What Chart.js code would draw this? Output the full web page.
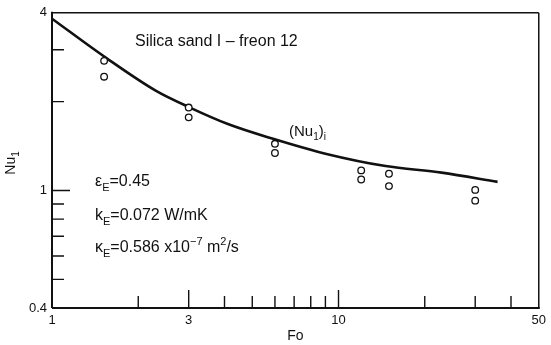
<!DOCTYPE html>
<html>
<head>
<meta charset="utf-8">
<script src="https://cdn.jsdelivr.net/npm/chart.js@4.4.0/dist/chart.umd.min.js"></script>
<style>
  html, body { margin: 0; padding: 0; background: #fff; }
</style>
</head>
<body>
<canvas id="chart" width="551" height="345"></canvas>
<script>
// smooth (Nu1)i curve
var curveFo = [1, 1.54, 2.3, 3.03, 4.11, 5.87, 9.08, 14.6, 22.9, 35.9];
var curveNu = [3.82, 2.82, 2.18, 1.91, 1.68, 1.50, 1.33, 1.21, 1.15, 1.07];

// measured points (open circles)
var pointFo = [1.52, 1.52, 3.0, 3.0, 6.0, 6.0, 12, 12, 15, 15, 30, 30];
var pointNu = [2.75, 2.43, 1.91, 1.77, 1.44, 1.34, 1.17, 1.09, 1.14, 1.035, 1.005, 0.924];

// tick labels and tick marks
var xLabelTicks = [1, 3, 10, 50];
var yLabelTicks = [0.4, 1, 4];
var xShortTicks = [2, 4, 5, 6, 7, 8, 9, 20, 30, 40];
var xLongTicks = [3, 10];
var yShortTicks = [0.5, 0.6, 0.7, 0.8, 0.9, 2, 3];
var yLongTicks = [1];

var FONT = "'Liberation Sans', Arial, sans-serif";
var INK = '#111';

var curveData = [];
for (var i = 0; i < curveFo.length; i++) {
  curveData.push({ x: curveFo[i], y: curveNu[i] });
}
var pointData = [];
for (var i = 0; i < pointFo.length; i++) {
  pointData.push({ x: pointFo[i], y: pointNu[i] });
}

// draw text made of normal / sub / sup pieces, vertically centred on y
function drawRuns(ctx, runs, x, y, size, measureOnly) {
  var cx = x;
  for (var i = 0; i < runs.length; i++) {
    var t = runs[i][0], kind = runs[i][1];
    var s = kind == 'n' ? size : Math.round(size * 0.68);
    var dy = kind == 'sub' ? size * 0.38 : (kind == 'sup' ? -size * 0.4 : 0);
    ctx.font = s + 'px ' + FONT;
    if (!measureOnly) ctx.fillText(t, cx, y + dy);
    cx += ctx.measureText(t).width;
  }
  return cx - x;
}

function edge(ctx, width, x1, y1, x2, y2) {
  ctx.lineWidth = width;
  ctx.beginPath();
  ctx.moveTo(x1, y1);
  ctx.lineTo(x2, y2);
  ctx.stroke();
}

var decorPlugin = {
  id: 'decor',
  afterDraw: function (chart) {
    var ctx = chart.ctx;
    var a = chart.chartArea;
    var xs = chart.scales.x, ys = chart.scales.y;
    ctx.save();
    ctx.strokeStyle = INK;

    // frame: thin top/right, heavier left/bottom
    edge(ctx, 1.5, a.left, a.top, a.right, a.top);
    edge(ctx, 1.5, a.right, a.top, a.right, a.bottom);
    edge(ctx, 2, a.left, a.bottom, a.right + 1, a.bottom);
    edge(ctx, 2, a.left, a.top - 1, a.left, a.bottom);

    // inward tick marks
    ctx.lineWidth = 1.4;
    ctx.beginPath();
    xShortTicks.forEach(function (v) {
      var px = xs.getPixelForValue(v);
      ctx.moveTo(px, a.bottom); ctx.lineTo(px, a.bottom - 12);
    });
    xLongTicks.forEach(function (v) {
      var px = xs.getPixelForValue(v);
      ctx.moveTo(px, a.bottom); ctx.lineTo(px, a.bottom - 18);
    });
    yShortTicks.forEach(function (v) {
      var py = ys.getPixelForValue(v);
      ctx.moveTo(a.left, py); ctx.lineTo(a.left + 12, py);
    });
    yLongTicks.forEach(function (v) {
      var py = ys.getPixelForValue(v);
      ctx.moveTo(a.left, py); ctx.lineTo(a.left + 18, py);
    });
    ctx.stroke();

    // annotations
    ctx.fillStyle = INK;
    ctx.textBaseline = 'middle';
    ctx.textAlign = 'left';
    drawRuns(ctx, [['Silica sand I \u2013 freon 12', 'n']], 135, 42, 16);
    drawRuns(ctx, [['(Nu', 'n'], ['1', 'sub'], [')', 'n'], ['i', 'sub']], 289, 132, 15);
    drawRuns(ctx, [['\u03b5', 'n'], ['E', 'sub'], ['=0.45', 'n']], 95, 182, 16);
    drawRuns(ctx, [['k', 'n'], ['E', 'sub'], ['=0.072 W/mK', 'n']], 95, 216, 16);
    drawRuns(ctx, [['\u03ba', 'n'], ['E', 'sub'], ['=0.586 x10', 'n'], ['\u22127', 'sup'],
                   [' m', 'n'], ['2', 'sup'], ['/s', 'n']], 95, 248, 16);

    // y axis title, rotated
    var yRuns = [['Nu', 'n'], ['1', 'sub']];
    var w = drawRuns(ctx, yRuns, 0, 0, 14, true);
    ctx.translate(11, 163);
    ctx.rotate(-Math.PI / 2);
    drawRuns(ctx, yRuns, -w / 2, 0, 14);
    ctx.restore();
  }
};

new Chart(document.getElementById('chart'), {
  type: 'scatter',
  data: {
    datasets: [
      {
        label: 'points',
        data: pointData,
        showLine: false,
        pointStyle: 'circle',
        pointRadius: 3.3,
        pointBorderWidth: 1.3,
        pointBorderColor: INK,
        pointBackgroundColor: '#fff',
        order: 1
      },
      {
        label: '(Nu1)i',
        data: curveData,
        showLine: true,
        borderColor: INK,
        borderWidth: 2.6,
        pointRadius: 0,
        cubicInterpolationMode: 'monotone',
        order: 2
      }
    ]
  },
  options: {
    responsive: false,
    animation: false,
    layout: { padding: { top: 12, right: 6, left: 0, bottom: 0 } },
    plugins: {
      legend: { display: false },
      tooltip: { enabled: false }
    },
    scales: {
      x: {
        type: 'logarithmic',
        min: 1,
        max: 50,
        afterBuildTicks: function (s) {
          s.ticks = xLabelTicks.map(function (v) { return { value: v }; });
        },
        afterFit: function (s) { s.height = 37; },
        grid: { display: false, drawTicks: false },
        border: { display: false },
        ticks: {
          autoSkip: false,
          maxRotation: 0,
          padding: 5,
          color: INK,
          font: { family: FONT, size: 13 },
          callback: function (v) { return String(v); }
        },
        title: {
          display: true,
          text: 'Fo',
          color: INK,
          font: { family: FONT, size: 14 },
          padding: { top: 0, bottom: 0 }
        }
      },
      y: {
        type: 'logarithmic',
        min: 0.4,
        max: 4,
        afterBuildTicks: function (s) {
          s.ticks = yLabelTicks.map(function (v) { return { value: v }; });
        },
        afterFit: function (s) { s.width = 52; },
        grid: { display: false, drawTicks: false },
        border: { display: false },
        ticks: {
          autoSkip: false,
          padding: 5,
          color: INK,
          font: { family: FONT, size: 13 },
          callback: function (v) { return String(v); }
        }
      }
    }
  },
  plugins: [decorPlugin]
});
</script>
</body>
</html>
